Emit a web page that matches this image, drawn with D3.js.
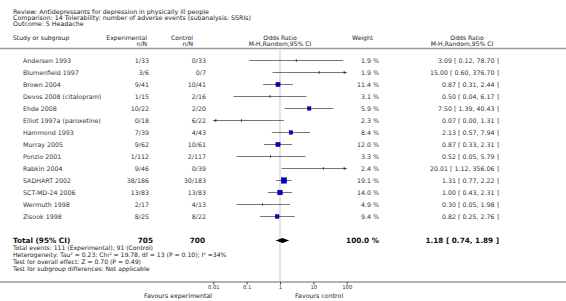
<!DOCTYPE html>
<html>
<head>
<meta charset="utf-8">
<script src="https://cdn.jsdelivr.net/npm/d3@7"></script>
<style>
  body { margin: 0; background: #fff; }
  svg { display: block; font-family: "DejaVu Sans", Verdana, sans-serif; }
</style>
</head>
<body>
<div class="vis"></div>
<script>
const width = 566;
const height = 301;

// study data
const studies = ["Andersen 1993", "Blumenfield 1997", "Brown 2004", "Devos 2008 (citalopram)", "Ehde 2008",
    "Elliot 1997a (paroxetine)", "Hammond 1993", "Murray 2005", "Ponzio 2001", "Rabkin 2004",
    "SADHART 2002", "SCT-MD-24 2006", "Wermuth 1998", "Zisook 1998"];
const expN = ["1/33", "3/6", "9/41", "1/15", "10/22", "0/18", "7/39", "9/62", "1/112", "9/46", "38/186", "13/83", "2/17", "8/25"];
const ctlN = ["0/33", "0/7", "10/41", "2/16", "2/20", "6/22", "4/43", "10/61", "2/117", "0/39", "30/183", "13/83", "4/13", "8/22"];
const weights = [1.9, 1.9, 11.4, 3.1, 5.9, 2.3, 8.4, 12.0, 3.3, 2.4, 19.1, 14.0, 4.9, 9.4];
const orEst = [3.09, 15.00, 0.87, 0.50, 7.50, 0.07, 2.13, 0.87, 0.52, 20.01, 1.31, 1.00, 0.30, 0.82];
const orLow = [0.12, 0.60, 0.31, 0.04, 1.39, 0.00, 0.57, 0.33, 0.05, 1.12, 0.77, 0.43, 0.05, 0.25];
const orHigh = [78.70, 376.70, 2.44, 6.17, 40.43, 1.31, 7.94, 2.31, 5.79, 356.06, 2.22, 2.31, 1.98, 2.76];

const total = { exp: "705", ctl: "700", weight: "100.0 %", est: 1.18, low: 0.74, high: 1.89 };
const axisTicks = [0.01, 0.1, 1, 10, 100];

const headerLines = [
    "Review:  Antidepressants for depression in physically ill people",
    "Comparison:  14 Tolerability: number of adverse events (subanalysis: SSRIs)",
    "Outcome:  5 Headache"
];
const footLines = [
    "Total events: 111 (Experimental), 91 (Control)",
    "Heterogeneity: Tau\u00b2 = 0.23; Chi\u00b2 = 19.78, df = 13 (P = 0.10); I\u00b2 =34%",
    "Test for overall effect: Z = 0.70 (P = 0.49)",
    "Test for subgroup differences: Not applicable"
];

const fmt = d3.format(".2f");
const ciText = (e, l, h) => `${fmt(e)} [ ${fmt(l)}, ${fmt(h)} ]`;

const svg = d3.select(".vis").append("svg")
    .attr("width", width)
    .attr("height", height);

svg.append("rect").attr("width", width).attr("height", height).attr("fill", "#fff");

// scales
const x = d3.scaleLog().domain([0.01, 100]).range([213.3, 346.7]);
const y = d3.scaleLinear().domain([0, studies.length - 1]).range([60.5, 216.5]);
const totalY = 240.5;
const axisY = 282;

// title block
svg.selectAll("text.head")
    .data(headerLines)
    .enter().append("text")
    .attr("class", "head")
    .attr("x", 13)
    .attr("y", (d, i) => 11.7 + i * 6.1)
    .attr("dy", "0.35em")
    .attr("font-size", 6.3)
    .attr("fill", "#222")
    .text(d => d);

// column headers
const hdr = svg.append("g").attr("font-size", 6.1).attr("fill", "#222");
function hText(tx, ty, anchor, s) {
    hdr.append("text").attr("x", tx).attr("y", ty).attr("dy", "0.35em")
        .attr("text-anchor", anchor).attr("fill", "#222").text(s);
}
hText(13, 37.8, "start", "Study or subgroup");
hText(147, 37.8, "end", "Experimental");
hText(147, 44.2, "end", "n/N");
hText(193, 37.8, "end", "Control");
hText(193, 44.2, "end", "n/N");
hText(280, 37.8, "middle", "Odds Ratio");
hText(280, 44.2, "middle", "M-H,Random,95% CI");
hText(352, 37.8, "start", "Weight");
hText(467, 37.8, "middle", "Odds Ratio");
hText(462, 44.2, "middle", "M-H,Random,95% CI");

// header separator
svg.append("line")
    .attr("x1", 0).attr("x2", width)
    .attr("y1", 48.5).attr("y2", 48.5)
    .attr("stroke", "#999").attr("stroke-width", 1.6);

// line of no effect
svg.append("line")
    .attr("x1", x(1)).attr("x2", x(1))
    .attr("y1", 50).attr("y2", axisY)
    .attr("stroke", "#ddd").attr("stroke-width", 1.6);

// study text columns
const rows = svg.append("g").attr("font-size", 6.3).attr("fill", "#333");
studies.forEach((s, i) => {
    const ry = y(i);
    rows.append("text").attr("x", 23).attr("y", ry).attr("dy", "0.35em").text(s);
    rows.append("text").attr("x", 149).attr("y", ry).attr("dy", "0.35em").attr("text-anchor", "end").text(expN[i]);
    rows.append("text").attr("x", 206).attr("y", ry).attr("dy", "0.35em").attr("text-anchor", "end").text(ctlN[i]);
    rows.append("text").attr("x", 379).attr("y", ry).attr("dy", "0.35em").attr("text-anchor", "end").text(weights[i].toFixed(1) + " %");
    rows.append("text").attr("x", 499).attr("y", ry).attr("dy", "0.35em").attr("text-anchor", "end")
        .text(ciText(orEst[i], orLow[i], orHigh[i]));
});

// confidence intervals
const [dMin, dMax] = x.domain();
const ci = svg.append("g");
studies.forEach((s, i) => {
    const ry = y(i);
    const lo = Math.max(orLow[i], dMin);
    const hi = Math.min(orHigh[i], dMax);
    ci.append("line")
        .attr("x1", x(lo)).attr("x2", x(hi))
        .attr("y1", ry).attr("y2", ry)
        .attr("stroke", "#666").attr("stroke-width", 0.9);
    // arrows where the interval runs off the scale
    if (orLow[i] < dMin) {
        ci.append("path")
            .attr("d", `M${x(dMin)},${ry}l3,-1.4v2.8z`)
            .attr("fill", "#333");
    }
    if (orHigh[i] > dMax) {
        ci.append("path")
            .attr("d", `M${x(dMax)},${ry}l-3,-1.4v2.8z`)
            .attr("fill", "#333");
    }
    if (weights[i] < 5) {
        ci.append("line")
            .attr("x1", x(orEst[i])).attr("x2", x(orEst[i]))
            .attr("y1", ry - 1.5).attr("y2", ry + 1.5)
            .attr("stroke", "#333").attr("stroke-width", 0.8);
    } else {
        const side = Math.max(3.6, Math.sqrt(weights[i]) * 1.25);
        ci.append("rect")
            .attr("x", x(orEst[i]) - side / 2).attr("y", ry - side / 2)
            .attr("width", side).attr("height", side)
            .attr("fill", "#0000cc").attr("stroke", "#000066").attr("stroke-width", 0.4);
    }
});

// total row
const tot = svg.append("g").attr("font-weight", "bold").attr("fill", "#111").attr("font-size", 7.3);
tot.append("text").attr("x", 13).attr("y", totalY).attr("dy", "0.35em").text("Total (95% CI)");
tot.append("text").attr("x", 153).attr("y", totalY).attr("dy", "0.35em").attr("text-anchor", "end").text(total.exp);
tot.append("text").attr("x", 205).attr("y", totalY).attr("dy", "0.35em").attr("text-anchor", "end").text(total.ctl);
tot.append("text").attr("x", 379).attr("y", totalY).attr("dy", "0.35em").attr("text-anchor", "end").text(total.weight);
tot.append("text").attr("x", 499).attr("y", totalY).attr("dy", "0.35em").attr("text-anchor", "end")
    .text(ciText(total.est, total.low, total.high));

svg.append("path")
    .attr("d", `M${x(total.low)},${totalY}L${x(total.est)},${totalY - 2.5}L${x(total.high)},${totalY}L${x(total.est)},${totalY + 2.5}Z`)
    .attr("fill", "#000");

// footnotes
svg.selectAll("text.foot")
    .data(footLines)
    .enter().append("text")
    .attr("class", "foot")
    .attr("x", 13)
    .attr("y", (d, i) => 248.2 + i * 6.8)
    .attr("dy", "0.35em")
    .attr("font-size", 6.1)
    .attr("fill", "#222")
    .text(d => d);

// axis
svg.append("line")
    .attr("x1", 0).attr("x2", width)
    .attr("y1", axisY).attr("y2", axisY)
    .attr("stroke", "#666").attr("stroke-width", 1);

const xAxis = d3.axisBottom(x).tickValues(axisTicks).tickSize(2.5).tickFormat(d => String(d));
const ax = svg.append("g")
    .attr("transform", `translate(0, ${axisY})`)
    .call(xAxis);
ax.select(".domain").remove();
ax.selectAll(".tick line").attr("stroke", "#444");
ax.selectAll(".tick text")
    .attr("font-size", 5.3)
    .attr("font-family", "DejaVu Sans, sans-serif")
    .attr("fill", "#333")
    .attr("dy", "0.3em");

svg.append("text").attr("x", 212).attr("y", 298).attr("text-anchor", "end")
    .attr("font-size", 6.3).attr("fill", "#222").text("Favours experimental");
svg.append("text").attr("x", 295).attr("y", 298).attr("text-anchor", "start")
    .attr("font-size", 6.3).attr("fill", "#222").text("Favours control");
</script>
</body>
</html>
